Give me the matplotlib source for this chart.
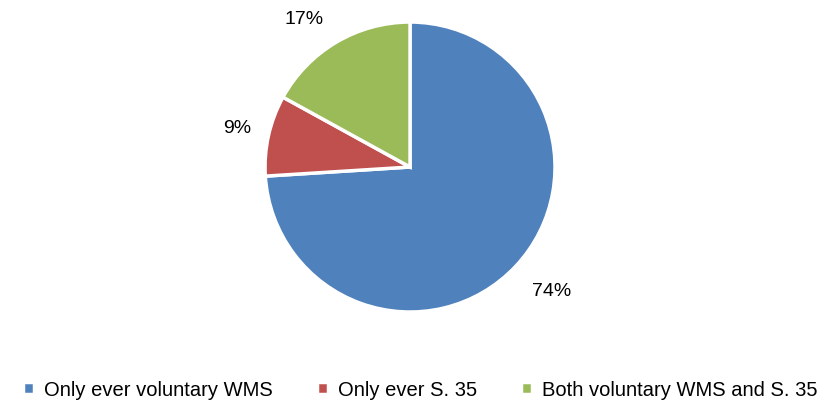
import matplotlib
matplotlib.use("Agg")
import numpy as np
import matplotlib.pyplot as plt

# data
labels = ["Only ever voluntary WMS", "Only ever S. 35", "Both voluntary WMS and S. 35"]
shares = [74, 9, 17]
colors = ["#4F81BD", "#C0504D", "#9BBB59"]

plt.rcParams['font.family'] = ['Liberation Sans', 'DejaVu Sans']

fig = plt.figure(figsize=(8.24, 4.05), dpi=100)
ax = fig.add_axes([0.3216, 0.2296, 0.352, 0.716])

wedges, _, autotexts = ax.pie(
    shares, colors=colors, startangle=90, counterclock=False,
    autopct="%d%%", pctdistance=1.28, radius=1,
    wedgeprops=dict(edgecolor="white", linewidth=2.5),
    textprops=dict(fontsize=14, color="black"),
)

# label placement tweaks (distance, angle offset) to mimic Excel
dist = [1.30, 1.22, 1.25]
shift = [2, 0, 5]
for w, t, d, s in zip(wedges, autotexts, dist, shift):
    ang = np.deg2rad((w.theta1 + w.theta2) / 2 + s)
    t.set_position((d * np.cos(ang), d * np.sin(ang)))

ax.set_xlim(-1, 1)
ax.set_ylim(-1, 1)
ax.set_aspect("equal")

fig.legend(wedges, labels, loc="center", bbox_to_anchor=(0.51, 0.037),
           ncol=3, frameon=False, fontsize=14.5, handlelength=0.55, handleheight=0.55,
           handletextpad=0.5, columnspacing=2.2)

fig.savefig("out.png", dpi=100)
